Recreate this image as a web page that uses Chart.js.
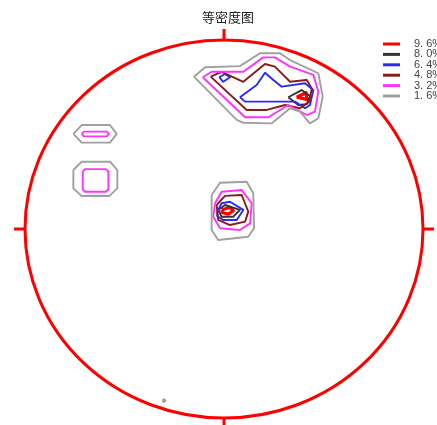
<!DOCTYPE html>
<html>
<head>
<meta charset="utf-8">
<script src="https://cdn.jsdelivr.net/npm/chart.js@4/dist/chart.umd.min.js"></script>
<style>
  html, body { margin: 0; padding: 0; background: #fff; }
  #wrap { width: 437px; height: 425px; }
</style>
</head>
<body>
<div id="wrap"><canvas id="c" width="437" height="425"></canvas></div>
<script>
// 等密度图 - contour levels (density %), coordinates in unit-circle space
const chartTitle = "等密度图";
const levelLabels = ["9. 6%", "8. 0%", "6. 4%", "4. 8%", "3. 2%", "1. 6%"];

const level96 = [
  [[0.365, 0.697], [0.412, 0.721], [0.416, 0.686]],
  [[-0.012, 0.101], [0.030, 0.115], [0.047, 0.097], [0.022, 0.079], [-0.007, 0.086]]
];
const level80 = [
  [[0.323, 0.697], [0.390, 0.735], [0.432, 0.704], [0.416, 0.661], [0.373, 0.656]],
  [[-0.029, 0.101], [0.005, 0.127], [0.080, 0.101], [0.047, 0.065], [-0.012, 0.065]]
];
const level64 = [
  [[0.080, 0.697], [0.164, 0.762], [0.206, 0.827], [0.248, 0.788], [0.290, 0.753], [0.407, 0.771],
   [0.449, 0.735], [0.432, 0.656], [0.407, 0.639], [0.357, 0.674], [0.215, 0.674], [0.106, 0.674]],
  [[-0.024, 0.803], [0.005, 0.820], [0.030, 0.803], [-0.004, 0.779]],
  [[-0.034, 0.092], [-0.012, 0.136], [0.030, 0.144], [0.097, 0.101], [0.064, 0.048], [-0.004, 0.048], [-0.034, 0.069]]
];
const level48 = [
  [[-0.067, 0.806], [-0.012, 0.831], [0.097, 0.779], [0.206, 0.873], [0.256, 0.859], [0.332, 0.779],
   [0.416, 0.788], [0.441, 0.744], [0.429, 0.674], [0.382, 0.639], [0.307, 0.656], [0.215, 0.630], [0.114, 0.630]],
  [[-0.037, 0.127], [0.005, 0.175], [0.089, 0.180], [0.122, 0.092], [0.106, 0.039], [0.030, 0.021], [-0.029, 0.048]]
];
const level32 = [
  [[-0.107, 0.803], [-0.062, 0.832], [0.097, 0.832], [0.197, 0.908], [0.256, 0.908], [0.332, 0.859],
   [0.449, 0.815], [0.474, 0.727], [0.457, 0.621], [0.416, 0.603], [0.323, 0.656], [0.223, 0.591], [0.106, 0.591]],
  [[-0.715, 0.503], [-0.704, 0.515], [-0.589, 0.515], [-0.578, 0.503], [-0.589, 0.490], [-0.704, 0.490]],
  [[-0.710, 0.303], [-0.698, 0.317], [-0.594, 0.317], [-0.581, 0.303], [-0.581, 0.210], [-0.594, 0.197],
   [-0.698, 0.197], [-0.710, 0.210]],
  [[-0.045, 0.136], [-0.012, 0.197], [0.089, 0.206], [0.139, 0.136], [0.131, 0.030], [0.080, -0.005],
   [-0.020, 0.004], [-0.054, 0.065]]
];
const level16 = [
  [[-0.151, 0.806], [-0.095, 0.856], [0.080, 0.862], [0.181, 0.930], [0.281, 0.930], [0.332, 0.894],
   [0.474, 0.824], [0.496, 0.700], [0.474, 0.586], [0.432, 0.559], [0.382, 0.621], [0.332, 0.639],
   [0.240, 0.559], [0.097, 0.562], [0.064, 0.577]],
  [[-0.757, 0.503], [-0.715, 0.550], [-0.573, 0.550], [-0.539, 0.503], [-0.573, 0.457], [-0.715, 0.457]],
  [[-0.757, 0.312], [-0.715, 0.356], [-0.573, 0.356], [-0.536, 0.312], [-0.536, 0.215], [-0.576, 0.175],
   [-0.715, 0.175], [-0.757, 0.215]],
  [[-0.062, 0.180], [-0.020, 0.245], [0.114, 0.250], [0.147, 0.189], [0.151, 0.004], [0.122, -0.041],
   [-0.029, -0.058], [-0.062, -0.005]],
  [[-0.310, -0.908], [-0.302, -0.900], [-0.294, -0.908], [-0.302, -0.916]]
];

const levels = [level96, level80, level64, level48, level32, level16];
const colors = ["#ff0000", "#333333", "#2a2aff", "#8b1a1a", "#ff33ff", "#a0a0a0"];
const widths = [3.2, 1.9, 1.9, 1.9, 1.9, 1.9];

// close each ring and join rings with gaps
function toPoints(rings) {
  const pts = [];
  rings.forEach(ring => {
    ring.forEach(p => pts.push({ x: p[0], y: p[1] }));
    pts.push({ x: ring[0][0], y: ring[0][1] });
    pts.push({ x: null, y: null });
  });
  return pts;
}

const datasets = levels.map((rings, i) => ({
  label: levelLabels[i],
  data: toPoints(rings),
  borderColor: colors[i],
  borderWidth: widths[i],
  borderJoinStyle: "round",
  showLine: true,
  spanGaps: false,
  pointRadius: 0,
  tension: 0,
  fill: false
})).reverse();

const netPlugin = {
  id: "net",
  beforeDatasetsDraw(chart) {
    const ctx = chart.ctx;
    const xs = chart.scales.x, ys = chart.scales.y;
    const cx = xs.getPixelForValue(0), cy = ys.getPixelForValue(0);
    const rx = xs.getPixelForValue(1) - cx, ry = cy - ys.getPixelForValue(1);
    const t = 11;
    ctx.save();
    ctx.strokeStyle = "#ff0000";
    ctx.lineWidth = 3;
    ctx.beginPath();
    ctx.ellipse(cx, cy, rx, ry, 0, 0, Math.PI * 2);
    ctx.stroke();
    ctx.beginPath();
    ctx.moveTo(cx, cy - ry); ctx.lineTo(cx, cy - ry - t);
    ctx.moveTo(cx, cy + ry); ctx.lineTo(cx, cy + ry + t);
    ctx.moveTo(cx - rx, cy); ctx.lineTo(cx - rx - t, cy);
    ctx.moveTo(cx + rx, cy); ctx.lineTo(cx + rx + t, cy);
    ctx.stroke();
    ctx.restore();
  },
  afterDraw(chart) {
    const ctx = chart.ctx;
    ctx.save();
    ctx.fillStyle = "#222";
    ctx.font = '13px "Noto Sans CJK SC"';
    ctx.textAlign = "center";
    ctx.textBaseline = "middle";
    ctx.fillText(chartTitle, 228, 17);
    ctx.font = '11px "Liberation Sans"';
    ctx.textAlign = "left";
    levelLabels.forEach((lab, i) => {
      const y = 44 + i * 10.4;
      ctx.strokeStyle = colors[i];
      ctx.lineWidth = 3;
      ctx.beginPath();
      ctx.moveTo(383, y); ctx.lineTo(400, y);
      ctx.stroke();
      ctx.fillStyle = "#444";
      ctx.fillText(lab, 414, y);
    });
    ctx.restore();
  }
};

new Chart(document.getElementById("c"), {
  type: "scatter",
  data: { datasets },
  options: {
    responsive: false,
    animation: false,
    layout: { padding: { left: 25, right: 14, top: 40, bottom: 7 } },
    scales: {
      x: { type: "linear", min: -1, max: 1, display: false },
      y: { type: "linear", min: -1, max: 1, display: false }
    },
    plugins: {
      legend: { display: false },
      title: { display: false },
      tooltip: { enabled: false }
    }
  },
  plugins: [netPlugin]
});
</script>
</body>
</html>
